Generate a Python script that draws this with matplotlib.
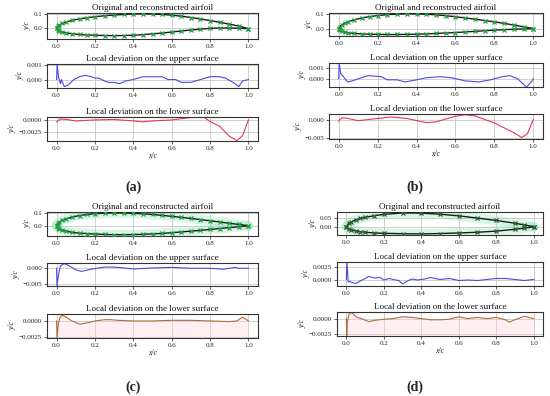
import matplotlib
matplotlib.use("Agg")
import matplotlib.pyplot as plt

plt.rcParams['font.family'] = ['Liberation Serif', 'DejaVu Serif']

# ---------------- data ----------------
x_af = [0, 0.005, 0.015, 0.03, 0.05, 0.08, 0.12, 0.16, 0.2, 0.25, 0.3, 0.35, 0.4,
        0.45, 0.5, 0.55, 0.6, 0.65, 0.7, 0.75, 0.8, 0.85, 0.9, 0.95, 1.0]
upper_a = [0, 0.012, 0.022, 0.032, 0.042, 0.053, 0.064, 0.072, 0.078, 0.085, 0.090, 0.094, 0.097,
           0.098, 0.097, 0.094, 0.089, 0.082, 0.073, 0.063, 0.052, 0.040, 0.027, 0.014, -0.004]
lower_a = [0, -0.012, -0.020, -0.027, -0.033, -0.039, -0.044, -0.047, -0.049, -0.051, -0.052, -0.051, -0.049,
           -0.045, -0.040, -0.034, -0.027, -0.020, -0.013, -0.007, -0.002, 0.001, 0.001, -0.001, -0.004]
upper_b = [0, 0.013, 0.024, 0.036, 0.047, 0.059, 0.071, 0.080, 0.087, 0.093, 0.097, 0.099, 0.098,
           0.096, 0.092, 0.086, 0.079, 0.071, 0.063, 0.054, 0.045, 0.035, 0.024, 0.012, 0.0]
lower_b = [0, -0.010, -0.017, -0.023, -0.028, -0.032, -0.035, -0.037, -0.038, -0.039, -0.039, -0.038, -0.037,
           -0.035, -0.032, -0.029, -0.026, -0.022, -0.018, -0.014, -0.010, -0.007, -0.004, -0.002, 0.0]
upper_c = [0, 0.016, 0.028, 0.041, 0.053, 0.066, 0.078, 0.086, 0.092, 0.096, 0.098, 0.097, 0.095,
           0.091, 0.086, 0.079, 0.072, 0.064, 0.056, 0.047, 0.038, 0.029, 0.019, 0.010, 0.0]
lower_c = [0, -0.015, -0.025, -0.034, -0.042, -0.050, -0.056, -0.060, -0.063, -0.066, -0.068, -0.068, -0.067,
           -0.065, -0.062, -0.058, -0.053, -0.047, -0.041, -0.035, -0.028, -0.021, -0.014, -0.007, 0.0]
x_af_d = [0, 0.0125, 0.025, 0.05, 0.075, 0.1, 0.15, 0.2, 0.3, 0.4, 0.5, 0.6, 0.7, 0.8, 0.9, 0.95, 1.0]
upper_d = [0, 0.018, 0.026, 0.037, 0.045, 0.051, 0.060, 0.067, 0.075, 0.074, 0.068, 0.059, 0.047, 0.034, 0.019, 0.010, 0.0]
lower_d = [0, -0.012, -0.017, -0.023, -0.027, -0.030, -0.034, -0.036, -0.038, -0.039, -0.037, -0.034, -0.030, -0.024, -0.014, -0.008, 0.0]

# local deviation, upper surface
xu_a = [0, 0.003, 0.01, 0.02, 0.025, 0.04, 0.06, 0.09, 0.12, 0.15, 0.18, 0.2, 0.22, 0.25, 0.27, 0.3,
        0.33, 0.36, 0.4, 0.45, 0.5, 0.55, 0.58, 0.62, 0.65, 0.7, 0.75, 0.8, 0.85, 0.88, 0.92, 0.95, 0.97, 1.0]
du_a = [0, 0.0011, 0.0002, -0.0003, 0.0, -0.0005, -0.0004, 0.0, 0.0002, 0.0003, 0.0002, 0.0001, 0.0001,
        -0.0001, -0.0002, -0.0002, -0.0003, -0.0001, 0.0, 0.0002, 0.0002, 0.0002, 0.0, 0.0, -0.0002,
        -0.0002, 0.0, 0.0002, 0.0002, 0.0001, -0.0002, -0.0005, -0.0001, 0.0]
xu_b = [0, 0.002, 0.01, 0.02, 0.045, 0.07, 0.1, 0.15, 0.22, 0.25, 0.3, 0.34, 0.4, 0.45, 0.52, 0.58,
        0.65, 0.72, 0.78, 0.84, 0.88, 0.92, 0.965, 0.99, 1.0]
du_b = [0, 0.0015, 0.0005, 0.0003, -0.0003, -0.0002, 0.0, 0.0003, 0.0002, -0.0001, -0.0001, -0.0003,
        -0.0001, 0.0001, 0.0002, 0.0001, -0.0002, -0.0003, -0.0001, 0.0002, 0.0003, 0.0, -0.0008, -0.0003, 0.0]
xu_c = [0, 0.002, 0.01, 0.02, 0.04, 0.06, 0.1, 0.13, 0.18, 0.25, 0.3, 0.4, 0.5, 0.6, 0.7, 0.8, 0.87,
        0.93, 0.95, 1.0]
du_c = [0, -0.0057, -0.002, 0.0008, 0.0015, 0.001, -0.0005, -0.001, -0.0003, 0.0004, 0.0004, -0.0002,
        0.0001, 0.0003, 0.0, 0.0, -0.0003, 0.0003, 0.0, 0.0]
xu_d = [0, 0.003, 0.01, 0.02, 0.03, 0.05, 0.08, 0.12, 0.15, 0.18, 0.2, 0.23, 0.25, 0.28, 0.3, 0.32,
        0.35, 0.38, 0.42, 0.45, 0.5, 0.55, 0.6, 0.65, 0.7, 0.75, 0.8, 0.85, 0.9, 0.95, 1.0]
du_d = [0, 0.0035, -0.0005, -0.0004, -0.0006, -0.0008, -0.0002, 0.0006, 0.0003, 0.0004, -0.0001, 0.0002,
        0.0, -0.0002, -0.0009, -0.0004, 0.0001, -0.0001, 0.0001, 0.0004, 0.0, 0.0002, -0.0002, -0.0001,
        -0.0002, 0.0, 0.0002, 0.0002, 0.0, -0.0002, 0.0]

# local deviation, lower surface
xl_a = [0, 0.02, 0.05, 0.1, 0.2, 0.3, 0.4, 0.45, 0.5, 0.6, 0.7, 0.77, 0.8, 0.85, 0.9, 0.94, 0.97, 1.0]
dl_a = [-0.0004, 0.0002, 0.0001, -0.0002, 0.0, 0.0001, -0.0002, -0.0004, -0.0002, 0.0, 0.0005, 0.0005,
        -0.0003, -0.0013, -0.0033, -0.0042, -0.0032, 0.0]
xl_b = [0, 0.005, 0.02, 0.04, 0.1, 0.2, 0.27, 0.35, 0.45, 0.5, 0.6, 0.65, 0.7, 0.8, 0.9, 0.94, 0.97, 1.0]
dl_b = [-0.0005, 0.0, 0.0005, 0.0004, -0.0003, 0.0003, 0.0007, 0.0003, -0.0008, -0.0006, 0.0009, 0.0013,
        0.001, -0.0009, -0.0035, -0.0048, -0.0038, 0.0]
xl_c = [0, 0.002, 0.01, 0.02, 0.03, 0.05, 0.08, 0.12, 0.16, 0.2, 0.25, 0.28, 0.32, 0.4, 0.5, 0.6, 0.7,
        0.8, 0.9, 0.94, 0.97, 0.985, 1.0]
dl_c = [0, -0.0027, -0.0002, 0.0007, 0.0009, 0.0006, 0.0, -0.0005, -0.0003, 0.0, 0.0002, 0.0002, 0.0001,
        0.0, 0.0, 0.0001, 0.0001, 0.0, -0.0001, 0.0, 0.0006, 0.0003, 0.0]
xl_d = [0, 0.002, 0.005, 0.015, 0.03, 0.05, 0.08, 0.12, 0.15, 0.2, 0.25, 0.3, 0.35, 0.4, 0.45, 0.5, 0.55,
        0.6, 0.65, 0.7, 0.75, 0.8, 0.85, 0.87, 0.9, 0.95, 1.0]
dl_d = [0, -0.0029, -0.0005, 0.0008, 0.001, 0.0003, 0.0, -0.0005, -0.0003, -0.0001, 0.0, 0.0003, 0.0002,
        0.0, -0.0002, -0.0002, -0.0001, 0.0003, 0.0, 0.0002, 0.0, 0.0002, -0.0002, -0.0006, -0.0002, 0.0004, 0.0]

title_af = "Original and reconstructed airfoil"
title_up = "Local deviation on the upper surface"
title_lo = "Local deviation on the lower surface"
xticks = [0.0, 0.2, 0.4, 0.6, 0.8, 1.0]
xticklabels = ["0.0", "0.2", "0.4", "0.6", "0.8", "1.0"]

W, H = 550, 396
fig = plt.figure(figsize=(W / 100, H / 100), dpi=100)


def axes_px(l, t, r, b):
    return fig.add_axes([l / W, 1 - b / H, (r - l) / W, (b - t) / H])


def style(ax, title, yt, ytl, ylim, xlabel=False):
    ax.set_xlim(-0.05, 1.05)
    ax.set_ylim(*ylim)
    ax.set_xticks(xticks)
    ax.set_xticklabels(xticklabels)
    ax.set_yticks(yt)
    ax.set_yticklabels(ytl)
    ax.tick_params(labelsize=5.0, length=2, width=0.5, pad=1.5, colors='#222222')
    ax.grid(True, color='#c8c8c8', lw=0.6)
    ax.set_axisbelow(True)
    for s in ax.spines.values():
        s.set_color('#333333')
        s.set_linewidth(0.8)
    ax.set_title(title, fontsize=6.5, pad=2.5, color='#111111')
    ax.set_ylabel("y/c", fontsize=5.5, labelpad=1.5, style='italic', color='#222222')
    if xlabel:
        ax.set_xlabel("x/c", fontsize=5.5, labelpad=1, style='italic', color='#222222')


panels = [
    dict(tag="(a)", l=47, r=258, tops=[(13, 39), (64, 88), (117, 141)], lab=(133, 187),
         xs=x_af, up=upper_a, lo=lower_a, halo=False, mk=16,
         af=([0.0, 0.1], ["0.0", "0.1"], (-0.075, 0.104)),
         du=(xu_a, du_a, [0.0, 0.001], ["0.000", "0.001"], (-0.0006, 0.0011)),
         dl=(xl_a, dl_a, [-0.0025, 0.0], ["\u22120.0025", "0.0000"], (-0.0043, 0.0006)),
         lc='#ee3355', fill=False),
    dict(tag="(b)", l=329, r=543, tops=[(13, 36), (63, 87), (114, 139)], lab=(415, 187),
         xs=x_af, up=upper_b, lo=lower_b, halo=False, mk=16,
         af=([0.0, 0.1], ["0.0", "0.1"], (-0.049, 0.104)),
         du=(xu_b, du_b, [0.0, 0.001], ["0.000", "0.001"], (-0.00078, 0.0015)),
         dl=(xl_b, dl_b, [-0.005, 0.0], ["\u22120.005", "0.000"], (-0.0052, 0.0015)),
         lc='#ee3355', fill=False),
    dict(tag="(c)", l=47, r=258, tops=[(212, 236), (263, 286), (314, 338)], lab=(133, 387),
         xs=x_af, up=upper_c, lo=lower_c, halo=True, mk=16,
         af=([0.0, 0.1], ["0.0", "0.1"], (-0.078, 0.105)),
         du=(xu_c, du_c, [-0.005, 0.0], ["\u22120.005", "0.000"], (-0.0057, 0.0017)),
         dl=(xl_c, dl_c, [-0.0025, 0.0], ["\u22120.0025", "0.0000"], (-0.0027, 0.0011)),
         lc='#a87040', fill=True),
    dict(tag="(d)", l=337, r=543, tops=[(212, 235), (262, 286), (312, 336)], lab=(415, 387),
         xs=x_af_d, up=upper_d, lo=lower_d, halo=True, mk=7,
         af=([0.0, 0.05], ["0.00", "0.05"], (-0.045, 0.080)),
         du=(xu_d, du_d, [0.0, 0.0025], ["0.0000", "0.0025"], (-0.0013, 0.0035)),
         dl=(xl_d, dl_d, [-0.0025, 0.0], ["\u22120.0025", "0.0000"], (-0.0029, 0.0011)),
         lc='#a87040', fill=True),
]

for p in panels:
    (t0, b0), (t1, b1), (t2, b2) = p["tops"]
    ax0 = axes_px(p["l"], t0, p["r"], b0)
    ax1 = axes_px(p["l"], t1, p["r"], b1)
    ax2 = axes_px(p["l"], t2, p["r"], b2)

    xs, up, lo = p["xs"], p["up"], p["lo"]
    if p["halo"]:
        ax0.plot(xs, up, color='#7fe0b0', lw=7, alpha=0.3, solid_capstyle='round', zorder=2)
        ax0.plot(xs, lo, color='#7fe0b0', lw=7, alpha=0.3, solid_capstyle='round', zorder=2)
    ax0.plot(xs, up, color='#1a1a1a', lw=1.0, zorder=3)
    ax0.plot(xs, lo, color='#1a1a1a', lw=1.0, zorder=3)
    mcol = '#22a040' if p["mk"] > 10 else '#2f5f2f'
    ax0.plot(xs, up, ls='none', marker='x', ms=2.8, mew=0.9, color=mcol, zorder=4)
    ax0.plot(xs, lo, ls='none', marker='x', ms=2.8, mew=0.9, color=mcol, zorder=4)
    style(ax0, title_af, *p["af"])

    xu, du, yt, ytl, yl = p["du"]
    ax1.plot(xu, du, color='#4a4ae0', lw=0.8)
    style(ax1, title_up, yt, ytl, yl)

    xl, dl, yt, ytl, yl = p["dl"]
    if p["fill"]:
        ax2.fill_between(xl, dl, yl[0], color='#ffd0dc', alpha=0.35, lw=0)
    ax2.plot(xl, dl, color=p["lc"], lw=0.8)
    style(ax2, title_lo, yt, ytl, yl, xlabel=True)

    fig.text(p["lab"][0] / W, 1 - p["lab"][1] / H, p["tag"], ha='center', va='center',
             fontsize=10, fontweight='bold', color='#222222')

fig.savefig("out.png", dpi=100)
